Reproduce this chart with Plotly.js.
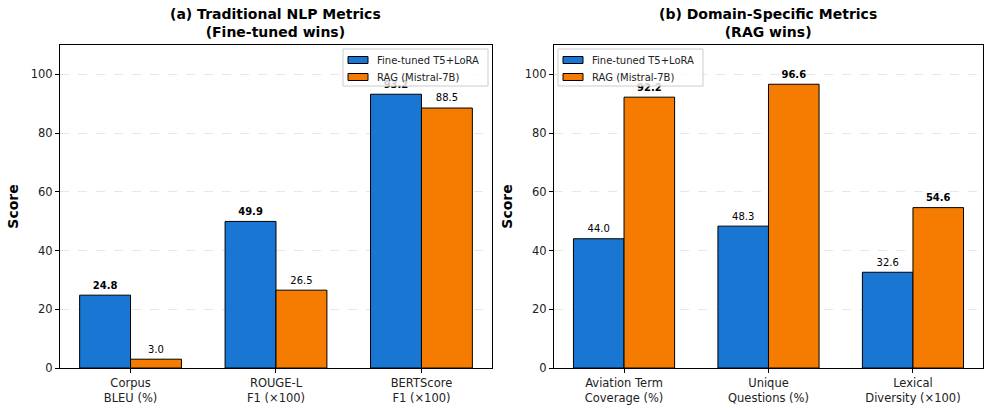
<!DOCTYPE html>
<html><head><meta charset="utf-8">
<script src="https://cdn.plot.ly/plotly-3.0.1.min.js"></script>
<style>html,body{margin:0;padding:0;background:#fff}</style>
</head><body><div id="chart" style="width:985px;height:408px"></div>
<script>
const catsA = ["Corpus<br>BLEU (%)", "ROUGE-L<br>F1 (×100)", "BERTScore<br>F1 (×100)"];
const ftA = [24.8, 49.9, 93.2];
const ragA = [3.0, 26.5, 88.5];
const catsB = ["Aviation Term<br>Coverage (%)", "Unique<br>Questions (%)", "Lexical<br>Diversity (×100)"];
const ftB = [44.0, 48.3, 32.6];
const ragB = [92.2, 96.6, 54.6];
const titleA = "<b>(a) Traditional NLP Metrics<br>(Fine-tuned wins)</b>";
const titleB = "<b>(b) Domain-Specific Metrics<br>(RAG wins)</b>";
const seriesNames = ["Fine-tuned T5+LoRA", "RAG (Mistral-7B)"];
const BLUE = "#1976D2", ORANGE = "#F57C00";
const colors = [BLUE, ORANGE];

const W = 985, H = 408;
const idx = [0, 1, 2];
const BW = 0.35;
function bar(y, name, color, xa, ya, off) {
  return {type: "bar", x: idx, y: y, name: name, xaxis: xa, yaxis: ya, showlegend: false,
    width: BW, offset: off, cliponaxis: false,
    marker: {color: color, line: {color: "#000", width: 1}}};
}
function lab(a, b, xa, ya, dx) {
  return {type: "scatter", mode: "markers+text", x: idx.map(i => i + dx), y: a, xaxis: xa, yaxis: ya,
    showlegend: false, cliponaxis: false, textposition: "top center",
    marker: {size: 5, opacity: 0},
    text: a.map((v, i) => v >= b[i] ? "<b>" + v.toFixed(1) + "</b>" : v.toFixed(1)),
    textfont: {size: 10, family: "DejaVu Sans", color: "#000"}};
}
const data = [
  bar(ftA, seriesNames[0], BLUE, "x", "y", -BW),
  bar(ragA, seriesNames[1], ORANGE, "x", "y", 0),
  bar(ftB, seriesNames[0], BLUE, "x2", "y2", -BW),
  bar(ragB, seriesNames[1], ORANGE, "x2", "y2", 0),
  lab(ftA, ragA, "x", "y", -BW / 2),
  lab(ragA, ftA, "x", "y", BW / 2),
  lab(ftB, ragB, "x2", "y2", -BW / 2),
  lab(ragB, ftB, "x2", "y2", BW / 2)
];
function xax(dom, cats, anchor) {
  return {domain: dom, anchor: anchor, range: [-0.485, 2.485], tickvals: idx, ticktext: cats,
    showline: true, mirror: true, linecolor: "#000", linewidth: 1, ticks: "outside", ticklen: 4,
    tickcolor: "#000", showgrid: false, zeroline: false,
    tickfont: {size: 11.5, family: "DejaVu Sans", color: "#222"}};
}
function yax(anchor) {
  return {domain: [0.098, 0.89], anchor: anchor, range: [0, 110], dtick: 20,
    showline: true, mirror: true, linecolor: "#000", linewidth: 1, ticks: "outside", ticklen: 4,
    tickcolor: "#000", showgrid: true, gridcolor: "rgba(0,0,0,0.12)", griddash: "dash", gridwidth: 0.8,
    zeroline: false, tickfont: {size: 11.5, family: "DejaVu Sans", color: "#222"},
    title: {text: "<b>Score</b>", font: {size: 14, family: "DejaVu Sans", color: "#000"}, standoff: 8}};
}
// legend box drawn in paper pixels
const px = x => x / W, py = y => 1 - y / H;
function legendBox(left, top, width, height) {
  const shapes = [{type: "rect", xref: "paper", yref: "paper", layer: "above",
    x0: px(left), x1: px(left + width), y0: py(top + height), y1: py(top),
    fillcolor: "rgba(255,255,255,0.8)", line: {color: "#cccccc", width: 1}}];
  const ann = [];
  seriesNames.forEach((n, k) => {
    const cy = top + 11 + k * 17;
    shapes.push({type: "rect", xref: "paper", yref: "paper", layer: "above",
      x0: px(left + 5), x1: px(left + 25), y0: py(cy + 3.5), y1: py(cy - 3.5),
      fillcolor: colors[k], line: {color: "#000", width: 1}});
    ann.push({xref: "paper", yref: "paper", x: px(left + 32), y: py(cy), xanchor: "left", yanchor: "middle",
      text: n, showarrow: false, font: {size: 10, family: "DejaVu Sans", color: "#222"}});
  });
  return {shapes, ann};
}
const legA = legendBox(343, 49, 145, 37);
const legB = legendBox(558, 49, 145, 37);
const layout = {
  width: W, height: H, margin: {l: 0, r: 0, t: 0, b: 0},
  paper_bgcolor: "#fff", plot_bgcolor: "#fff",
  barmode: "overlay", showlegend: false,
  xaxis: xax([0.0609, 0.4995], catsA, "y"),
  yaxis: yax("x"),
  xaxis2: xax([0.5624, 0.998], catsB, "y2"),
  yaxis2: yax("x2"),
  shapes: legA.shapes.concat(legB.shapes),
  annotations: [
    {text: titleA, xref: "paper", yref: "paper", x: 0.2802, y: 0.99, xanchor: "center", yanchor: "top",
     showarrow: false, font: {size: 14, family: "DejaVu Sans", color: "#000"}},
    {text: titleB, xref: "paper", yref: "paper", x: 0.7802, y: 0.99, xanchor: "center", yanchor: "top",
     showarrow: false, font: {size: 14, family: "DejaVu Sans", color: "#000"}}
  ].concat(legA.ann, legB.ann)
};
Plotly.newPlot("chart", data, layout, {displayModeBar: false, staticPlot: true});
</script></body></html>
